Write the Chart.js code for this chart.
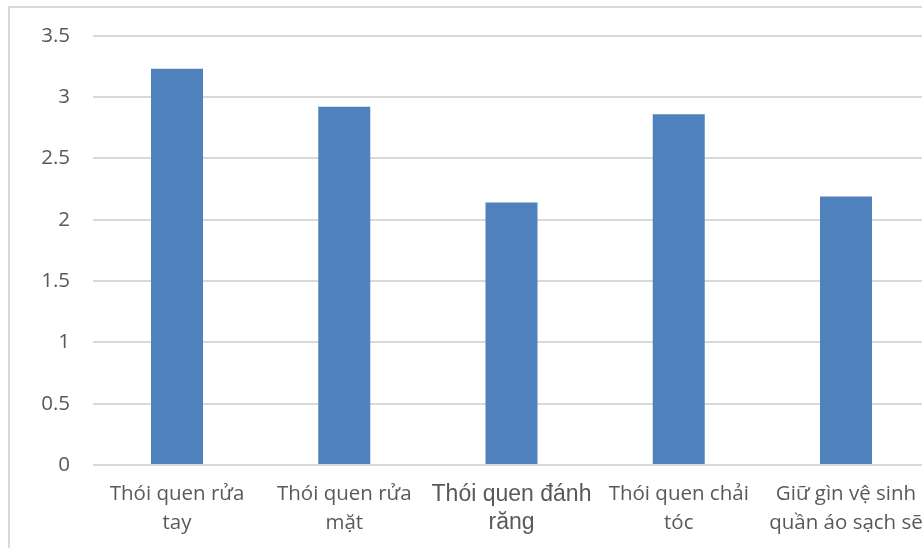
<!DOCTYPE html>
<html>
<head>
<meta charset="utf-8">
<script src="https://cdn.jsdelivr.net/npm/chart.js@4"></script>
<style>
  html, body { margin: 0; padding: 0; background: #fff; overflow: hidden; }
  #frame {
    position: absolute; left: 8px; top: 6px; width: 1000px; height: 600px;
    border: 2px solid #d9d9d9; box-sizing: border-box;
  }
  #wrap { position: absolute; left: 0; top: 0; width: 940px; height: 548px; }
</style>
</head>
<body>
<div id="frame"></div>
<div id="wrap"><canvas id="chart"></canvas></div>
<script>
/* Categories, wrapped the same way as the picture. */
const categories = [
  ["Thói quen rửa", "tay"],
  ["Thói quen rửa", "mặt"],
  ["Thói quen đánh", "răng"],
  ["Thói quen chải", "tóc"],
  ["Giữ gìn vệ sinh", "quần áo sạch sẽ"]
]

/* Bar values. */
const values = [3.23, 2.92, 2.14, 2.86, 2.19]

/* Y axis range. */
const yMin = 0
const yMax = 3.5
const yStep = 0.5

const textColor = "#595959"
const gridColor = "#d9d9d9"

const ctx = document.getElementById("chart").getContext("2d")
const chart = new Chart(ctx, {
  type: "bar",
  data: {
    labels: categories,
    datasets: [{
      data: values,
      backgroundColor: "#4f81bd",
      borderWidth: 0,
      categoryPercentage: 1,
      barPercentage: 0.311
    }]
  },
  options: {
    responsive: true,
    maintainAspectRatio: false,
    animation: false,
    layout: {
      padding: { top: 35, left: 0, right: 10.4, bottom: 0 }
    },
    plugins: {
      legend: { display: false },
      tooltip: { enabled: false }
    },
    scales: {
      x: {
        grid: { display: false, drawTicks: false },
        border: { display: false },
        ticks: {
          color: textColor,
          padding: 15,
          maxRotation: 0,
          autoSkip: false,
          /* The third label uses a different font in the original. */
          font: c => c.index === 2
            ? { family: "'Liberation Sans', Arial, sans-serif", size: 23, lineHeight: 1.25 }
            : { family: "'Open Sans', sans-serif", size: 20.5, lineHeight: 1.4 }
        },
        afterFit: axis => { axis.height = 83 }
      },
      y: {
        min: yMin,
        max: yMax,
        grid: { color: gridColor, lineWidth: 2, drawTicks: false },
        border: { display: false },
        ticks: {
          stepSize: yStep,
          color: textColor,
          padding: 23.4,
          font: { family: "'Open Sans', sans-serif", size: 20.5 },
          callback: value => String(value)
        },
        afterFit: axis => { axis.width = 93.4 }
      }
    }
  }
})
</script>
</body>
</html>
